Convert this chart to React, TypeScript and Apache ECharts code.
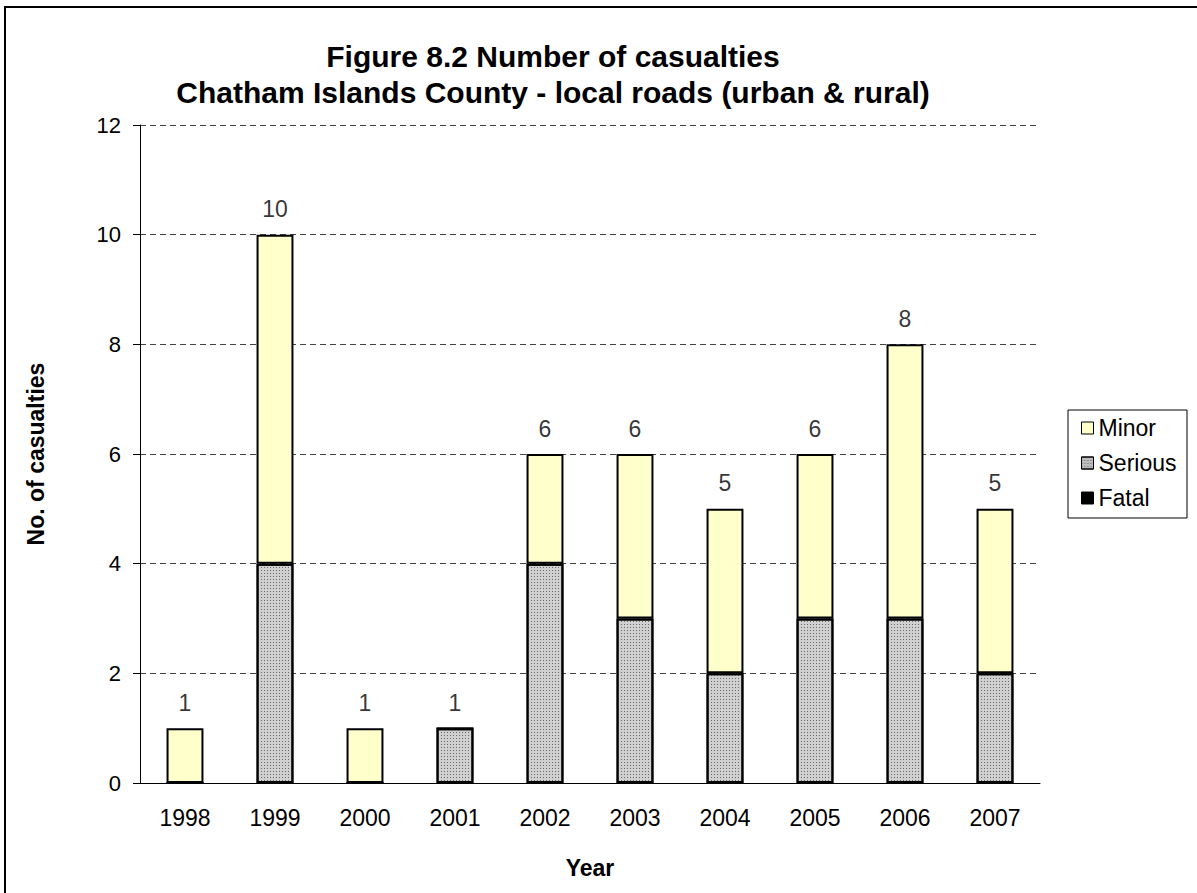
import React, { useEffect, useRef } from "react";
import * as echarts from "echarts";

const years = ["1998", "1999", "2000", "2001", "2002", "2003", "2004", "2005", "2006", "2007"];
const fatal = [0, 0, 0, 0, 0, 0, 0, 0, 0, 0];
const serious = [0, 4, 0, 1, 4, 3, 2, 3, 3, 2];
const minor = [1, 6, 1, 0, 2, 3, 3, 3, 5, 3];
const titleLines = ["Figure 8.2 Number of casualties", "Chatham Islands County - local roads (urban & rural)"];

const FONT = "Arial, 'Liberation Sans', sans-serif";

export default function App() {
  const ref = useRef<HTMLDivElement>(null);
  useEffect(() => {
    if (!ref.current) return;
    const chart = echarts.init(ref.current, undefined, { renderer: "svg" });
    const totals = years.map((_, i) => fatal[i] + serious[i] + minor[i]);
    const barWidth = "41%";
    const seriousDecal = {
      symbol: "rect",
      symbolSize: 1,
      color: "#6a6a6a",
      backgroundColor: "#e4e4e4",
      dashArrayX: [1, 2],
      dashArrayY: [1, 2],
      rotation: 0,
    };
    chart.setOption({
      animation: false,
      textStyle: { fontFamily: FONT },
      grid: { left: 140, top: 125, right: 157, bottom: 110 },
      graphic: [
        {
          type: "rect",
          shape: { x: 5, y: 7, width: 1300, height: 1000 },
          style: { fill: "none", stroke: "#000", lineWidth: 2 },
          z: -10,
          silent: true,
        },
        {
          type: "rect",
          shape: { x: 1068, y: 410, width: 119, height: 108 },
          style: { fill: "#fff", stroke: "#000", lineWidth: 1 },
          z: 0,
          silent: true,
        },
        {
          type: "text",
          x: 553,
          y: 56,
          style: { text: titleLines[0], font: `bold 30px ${FONT}`, fill: "#000", align: "center", verticalAlign: "middle" },
        },
        {
          type: "text",
          x: 553,
          y: 92,
          style: { text: titleLines[1], font: `bold 30px ${FONT}`, fill: "#000", align: "center", verticalAlign: "middle" },
        },
      ],
      legend: {
        orient: "vertical",
        left: 1076,
        top: 410,
        itemWidth: 12,
        itemHeight: 12,
        itemGap: 9,
        icon: "rect",
        z: 5,
        data: [
          { name: "Minor", itemStyle: { color: "#ffffcc", borderColor: "#000", borderWidth: 1 } },
          { name: "Serious", itemStyle: { color: "#bdbdbd", borderColor: "#000", borderWidth: 1, decal: seriousDecal } },
          { name: "Fatal", itemStyle: { color: "#000", borderColor: "#000", borderWidth: 1 } },
        ],
        textStyle: { fontSize: 23, lineHeight: 26, color: "#000", fontFamily: FONT, padding: [0, 0, 0, 0] },
      },
      xAxis: {
        type: "category",
        data: years,
        name: "Year",
        nameLocation: "middle",
        nameGap: 73,
        nameTextStyle: { fontSize: 23, fontWeight: "bold", color: "#000", fontFamily: FONT },
        axisLine: { lineStyle: { color: "#000", width: 1 } },
        axisTick: { show: false },
        axisLabel: { fontSize: 23, color: "#000", margin: 23, fontFamily: FONT },
      },
      yAxis: {
        type: "value",
        min: 0,
        max: 12,
        interval: 2,
        name: "No. of casualties",
        nameLocation: "middle",
        nameGap: 93,
        nameRotate: 90,
        nameTextStyle: { fontSize: 23, fontWeight: "bold", color: "#000", fontFamily: FONT },
        axisLine: { show: true, lineStyle: { color: "#000", width: 1 } },
        axisTick: { show: true, length: 7, lineStyle: { color: "#000" } },
        axisLabel: { fontSize: 22, color: "#000", margin: 19, fontFamily: FONT },
        splitLine: { show: true, lineStyle: { color: "#444", type: [6, 4], width: 1 } },
      },
      series: [
        {
          name: "Fatal",
          type: "bar",
          stack: "all",
          barWidth,
          data: fatal,
          itemStyle: { color: "#000", borderColor: "#000", borderWidth: 0 },
        },
        {
          name: "Serious",
          type: "bar",
          stack: "all",
          barWidth,
          data: serious,
          itemStyle: { color: "#d0d0d0", borderColor: "#000", borderWidth: 2, decal: seriousDecal },
        },
        {
          name: "Minor",
          type: "bar",
          stack: "all",
          barWidth,
          data: minor,
          itemStyle: { color: "#ffffcc", borderColor: "#000", borderWidth: 2 },
        },
        {
          name: "Total",
          type: "scatter",
          data: totals,
          symbolSize: 0,
          silent: true,
          label: {
            show: true,
            position: "top",
            distance: 14,
            fontSize: 23,
            color: "#000",
            fontFamily: FONT,
            formatter: (p: any) => String(p.value),
          },
        },
      ],
    });
    return () => chart.dispose();
  }, []);
  return <div ref={ref} style={{ position: "absolute", left: 0, top: 0, width: 1197, height: 893, background: "#fff" }} />;
}
